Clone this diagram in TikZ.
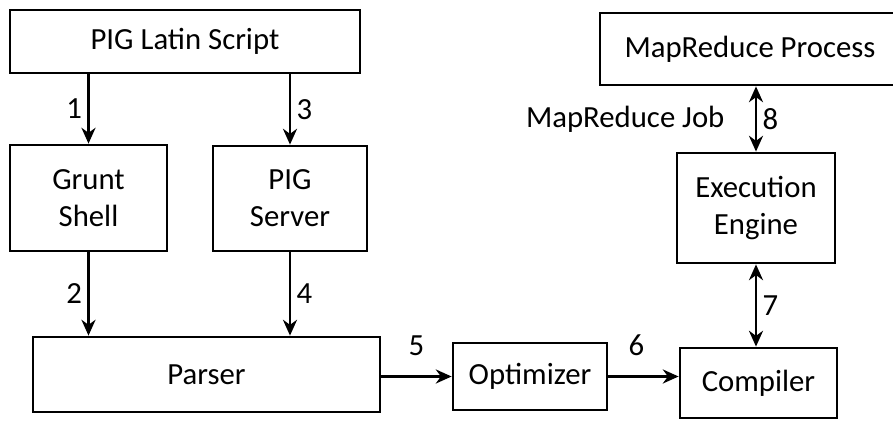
\documentclass[tikz,border=0pt]{standalone}
\usepackage{fontspec}
\setmainfont{Carlito}
\usetikzlibrary{arrows.meta}
\usetikzlibrary{positioning}

\tikzset{
  block/.style={draw, line width=1.6pt, align=center, font=\fontsize{17.5}{21}\selectfont},
  flow/.style={line width=1.5pt, -{Stealth[length=9pt,width=8pt]}},
  both/.style={line width=1.5pt, {Stealth[length=9pt,width=8pt]}-{Stealth[length=9pt,width=8pt]}},
  num/.style={font=\fontsize{17.5}{21}\selectfont, inner sep=3pt}
}

\begin{document}
\begin{tikzpicture}[x=0.02cm, y=-0.02cm]
        \useasboundingbox (0,0) rectangle (893,421);

        \node[block, minimum width=7cm, minimum height=1.26cm] (script) at (185,41.5) {PIG Latin Script};
        \node[block, minimum width=3.14cm, minimum height=2.12cm] (grunt) at (88.5,198) {Grunt\\Shell};
        \node[block, minimum width=3.08cm, minimum height=2.1cm] (server) at (290,198.5) {PIG\\Server};
        \node[block, minimum width=6.94cm, minimum height=1.5cm] (parser) at (206.5,374.5) {Parser};
        \node[block, minimum width=3.08cm, minimum height=1.34cm] (optimizer) at (530,376.5) {Optimizer};
        \node[block, minimum width=3.14cm, minimum height=1.4cm] (compiler) at (758.5,383) {Compiler};
        \node[block, minimum width=3.16cm, minimum height=2.2cm] (engine) at (756,208) {Execution\\Engine};
        \node[block, minimum width=6cm, minimum height=1.44cm] (process) at (750,49) {MapReduce Process};

        \draw[flow] (script.south -| grunt) -- node[num, left] {1} (grunt.north);
        \draw[flow] (script.south -| server) -- node[num, right] {3} (server.north);
        \draw[flow] (grunt.south) -- node[num, left] {2} (grunt.south |- parser.north);
        \draw[flow] (server.south) -- node[num, right] {4} (server.south |- parser.north);
        \draw[flow] (parser.east |- optimizer) -- node[num, above=8pt] {5} (optimizer.west);
        \draw[flow] (optimizer.east) -- node[num, above=8pt, pos=.4] {6} (optimizer.east -| compiler.west);
        \draw[both] (engine.south) -- node[num, right] {7} (engine.south |- compiler.north);
        \draw[both] (engine.north |- process.south) -- node[num, right] {8}
              node[num, left=0.5cm] {MapReduce Job} (engine.north);
    \end{tikzpicture}
\end{document}
